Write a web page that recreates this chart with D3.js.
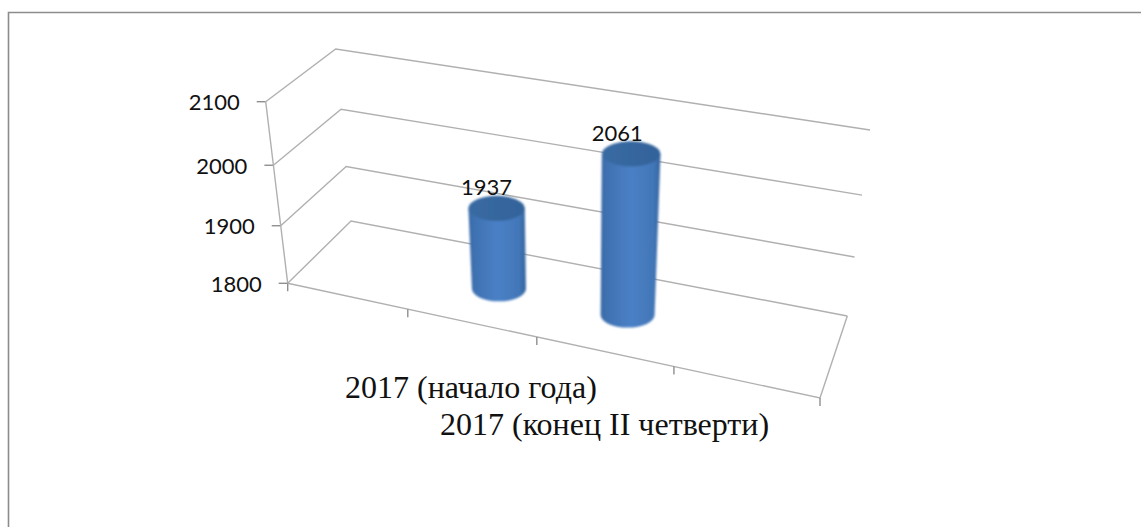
<!DOCTYPE html>
<html><head><meta charset="utf-8">
<script src="https://cdn.jsdelivr.net/npm/d3@7"></script>
<style>html,body{margin:0;padding:0;background:#fff}svg{display:block}</style>
</head><body><svg id="c" width="1141" height="527"></svg>
<script>
const categories = ["2017 (начало года)", "2017 (конец II четверти)"];
const values = [1937, 2061];
const slots = [1.51, 2.51];
const valueTicks = [1800, 1900, 2000, 2100];
const slotTicks = [0, 1, 2, 3, 4];

const W = 1141, H = 527;
const svg = d3.select("#c").attr("viewBox", [0, 0, W, H]);
const defs = svg.append("defs");

// projection: three axes of the 3D box
const floorFL = [287.7, 283.3], floorFR = [820, 398], floorBL = [351, 221], floorBR = [847.3, 316];
const riseFL = [-22, -181.6], riseFR = [16, -200], riseBL = [-15.3, -172], riseBR = [22.7, -186];
const lerp = (a, b, t) => [a[0] + (b[0] - a[0]) * t, a[1] + (b[1] - a[1]) * t];
const bilerp = (fl, fr, bl, br, u, v) => lerp(lerp(fl, fr, u), lerp(bl, br, u), v);
const uScale = d3.scaleLinear().domain(slotTicks).range([0, .2256, .468, .7256, 1]);
const hScale = d3.scaleLinear().domain(valueTicks).range([0, .317, .65, 1]);
function project(slot, depth, value) {
  const u = uScale(slot), h = hScale(value);
  const f = bilerp(floorFL, floorFR, floorBL, floorBR, u, depth);
  const r = bilerp(riseFL, riseFR, riseBL, riseBR, u, depth);
  return [f[0] + r[0] * h, f[1] + r[1] * h];
}

// outer frame
svg.append("path").attr("d", `M8.5 ${H}V12.5H${W}`).attr("fill", "none").attr("stroke", "#8c8c8c").attr("stroke-width", 1.6);

const soft = defs.append("filter").attr("id", "soft").attr("x", "-5%").attr("y", "-5%").attr("width", "110%").attr("height", "110%");
soft.append("feGaussianBlur").attr("stdDeviation", .5);
const softBar = defs.append("filter").attr("id", "softBar").attr("x", "-10%").attr("y", "-10%").attr("width", "120%").attr("height", "120%");
softBar.append("feGaussianBlur").attr("stdDeviation", 1.1);

// grid and axes
const grid = svg.append("g").attr("fill", "none").attr("stroke", "#b0b0b0").attr("stroke-width", 1.4).attr("filter", "url(#soft)");
const line = d3.line();
const lastSlot = slotTicks[slotTicks.length - 1];
valueTicks.forEach(v => {
  grid.append("path").attr("d", line([project(0, 0, v), project(0, 1, v), project(lastSlot, 1, v)]));
  const p = project(0, 0, v);
  grid.append("path").attr("stroke", "#8f8f8f").attr("d", line([[p[0] - 9, p[1]], p]));
});
// vertical axis
grid.append("path").attr("d", line(valueTicks.map(v => project(0, 0, v))));
// front floor edge + right floor edge
grid.append("path").attr("d", line([project(0, 0, 1800), project(lastSlot, 0, 1800), project(lastSlot, 1, 1800)]));
slotTicks.forEach(s => {
  const p = project(s, 0, 1800);
  grid.append("path").attr("stroke", "#8f8f8f").attr("d", line([p, [p[0], p[1] + 8]]));
});

// y tick labels
svg.append("g").attr("font-family", "Lato").attr("font-size", 22).attr("fill", "#111").attr("text-anchor", "end")
  .selectAll("text").data(valueTicks).join("text")
  .attr("x", d => project(0, 0, d)[0] - 26)
  .attr("y", d => project(0, 0, d)[1] + 8.7)
  .text(d => d);

// cylinders
const sideGrad = defs.append("linearGradient").attr("id", "side").attr("x1", 0).attr("x2", 1).attr("y1", 0).attr("y2", 0);
[[0, "#3a69a6"], [.12, "#3f72b2"], [.5, "#4a80c6"], [.88, "#4277b8"], [1, "#35649f"]].forEach(s =>
  sideGrad.append("stop").attr("offset", s[0]).attr("stop-color", s[1]));
const capGrad = defs.append("linearGradient").attr("id", "cap").attr("x1", 0).attr("x2", 1).attr("y1", 0).attr("y2", 0);
[[0, "#3a6ba3"], [.5, "#35669d"], [1, "#33639a"]].forEach(s =>
  capGrad.append("stop").attr("offset", s[0]).attr("stop-color", s[1]));

const ry = 12.6, rx0 = 27;
const bars = svg.append("g");
values.forEach((v, i) => {
  const b = project(slots[i], .5, 1800), t = project(slots[i], .5, v);
  const rxT = rx0 * (1 + .1 * hScale(v));
  const g = bars.append("g").attr("filter", "url(#softBar)");
  g.append("path").attr("fill", "url(#side)").attr("d",
    `M${t[0] - rxT} ${t[1]}L${b[0] - rx0} ${b[1]}A${rx0} ${ry} 0 0 0 ${b[0] + rx0} ${b[1]}L${t[0] + rxT} ${t[1]}Z`);
  g.append("ellipse").attr("cx", t[0]).attr("cy", t[1]).attr("rx", rxT).attr("ry", ry).attr("fill", "url(#cap)");
});

// data labels
const labelShift = [-10, -14];
svg.append("g").attr("font-family", "Lato").attr("font-size", 22).attr("fill", "#111").attr("text-anchor", "middle")
  .selectAll("text").data(values).join("text")
  .attr("x", (d, i) => project(slots[i], .5, d)[0] + labelShift[i])
  .attr("y", (d, i) => project(slots[i], .5, d)[1] - 13)
  .text(d => d);

// category labels
const catX = [345, 440], catY = [398, 435];
svg.append("g").attr("font-family", "Liberation Serif").attr("font-size", 32).attr("fill", "#111")
  .selectAll("text").data(categories).join("text")
  .attr("x", (d, i) => catX[i]).attr("y", (d, i) => catY[i]).text(d => d);
</script></body></html>
